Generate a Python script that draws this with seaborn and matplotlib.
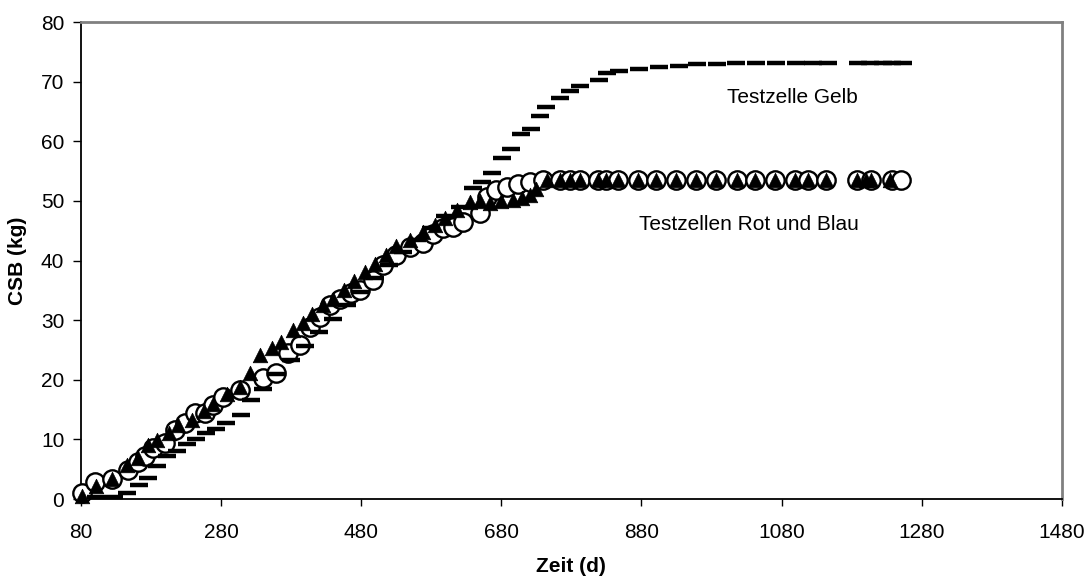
import matplotlib
matplotlib.use("Agg")
import matplotlib.pyplot as plt
import numpy as np
import seaborn as sns

# Testzelle Gelb (dashes)
gelb_x = [102, 127, 146, 163, 175, 189, 203, 217, 231, 244, 258, 272, 287, 308, 322,
          340, 360, 380, 400, 420, 440, 460, 480, 500, 520, 540, 560, 580, 600, 621,
          639, 652, 666, 681, 694, 708, 722, 735, 744, 764, 778, 792, 819, 831, 848,
          876, 905, 933, 959, 988, 1015, 1043, 1072, 1100, 1125, 1146, 1189, 1206,
          1225, 1237, 1253]
gelb_y = [0.3, 0.3, 1.1, 2.4, 3.6, 5.6, 7.2, 8.1, 9.2, 10.1, 11.1, 11.7, 12.7, 14.1, 16.7,
          18.5, 21.0, 23.3, 25.6, 28.0, 30.2, 32.5, 34.8, 37.0, 39.2, 41.5, 43.5, 45.5, 47.5, 49.0,
          52.1, 53.2, 54.7, 57.2, 58.7, 61.2, 62.1, 64.2, 65.8, 67.2, 68.4, 69.2, 70.3, 71.4, 71.8,
          72.1, 72.5, 72.7, 72.9, 73.0, 73.1, 73.1, 73.1, 73.2, 73.1, 73.1, 73.2, 73.2,
          73.2, 73.2, 73.2]

# Testzelle Rot (open circles)
rot_x = [81, 100, 124, 147, 162, 172, 183, 200, 214, 228, 243, 257, 269, 283, 307,
         340, 359, 375, 393, 407, 421, 435, 450, 465, 478, 497, 511, 530, 550, 568,
         583, 597, 611, 625, 649, 659, 673, 688, 704, 721, 740, 764, 778, 792, 818,
         830, 846, 875, 901, 930, 958, 987, 1016, 1042, 1070, 1099, 1118, 1144, 1187,
         1208, 1237, 1251]
rot_y = [1.0, 2.9, 3.4, 4.9, 6.3, 7.3, 8.5, 9.4, 11.6, 12.8, 14.4, 14.5, 15.8, 17.2, 18.3,
         20.3, 21.2, 24.5, 25.8, 28.9, 30.6, 32.5, 33.5, 34.5, 35.0, 36.7, 39.2, 40.9, 42.3, 42.9,
         44.5, 45.4, 45.7, 46.5, 47.9, 50.7, 51.8, 52.4, 52.9, 53.2, 53.5, 53.5, 53.5, 53.5, 53.5,
         53.5, 53.5, 53.5, 53.5, 53.5, 53.5, 53.5, 53.5, 53.5, 53.5, 53.5, 53.5, 53.5, 53.5,
         53.5, 53.5, 53.5]

# Testzelle Blau (filled triangles)
blau_x = [81, 102, 124, 145, 162, 176, 188, 205, 219, 238, 255, 269, 288, 307, 321,
          335, 352, 366, 383, 397, 410, 425, 440, 455, 470, 485, 500, 515, 530, 550,
          568, 585, 600, 616, 635, 650, 664, 680, 697, 710, 721, 730, 745, 764, 778,
          792, 818, 830, 846, 875, 901, 930, 958, 987, 1016, 1042, 1070, 1099, 1118,
          1144, 1187, 1200, 1208, 1235]
blau_y = [0.5, 2.2, 3.4, 5.7, 6.9, 9.0, 9.9, 11.0, 12.4, 13.3, 14.8, 16.0, 17.7, 18.8, 21.1,
          24.2, 25.3, 26.4, 28.3, 29.5, 31.0, 32.5, 33.5, 35.0, 36.5, 38.0, 39.5, 41.0, 42.5, 43.5,
          44.8, 46.0, 47.2, 48.5, 49.9, 50.0, 49.6, 50.0, 50.1, 50.5, 51.0, 52.0, 53.5, 53.5, 53.5,
          53.5, 53.5, 53.5, 53.5, 53.5, 53.5, 53.5, 53.5, 53.5, 53.5, 53.5, 53.5, 53.5, 53.5,
          53.5, 53.5, 53.5, 53.5, 53.5]

x_ticks = np.arange(80, 1481, 200)
y_ticks = np.arange(0, 81, 10)

sns.set_style("white")
plt.rcParams["font.family"] = ["Liberation Sans", "DejaVu Sans"]
plt.rcParams["text.color"] = "black"
plt.rcParams["axes.labelcolor"] = "black"

fig = plt.figure(figsize=(10.89, 5.79), dpi=100)
ax = fig.add_axes([0.0744, 0.138, 0.9006, 0.824])

sns.scatterplot(x=rot_x, y=rot_y, marker="o", s=175, color="white",
                edgecolor="black", linewidth=1.7, ax=ax, zorder=3, clip_on=False)
sns.scatterplot(x=blau_x, y=blau_y, marker="^", s=110, color="black",
                edgecolor="black", linewidth=0.5, ax=ax, zorder=4, clip_on=False)
sns.scatterplot(x=gelb_x, y=gelb_y, marker="_", s=150, color="black",
                linewidth=3.2, ax=ax, zorder=5, clip_on=False)

ax.set_xlim(80, 1480)
ax.set_ylim(0, 80)
ax.set_xticks(x_ticks)
ax.set_yticks(y_ticks)
ax.tick_params(axis="x", direction="out", length=5, width=1, pad=12, labelsize=15,
               colors="black", bottom=True)
ax.tick_params(axis="y", direction="out", length=6, width=1, pad=6, labelsize=15,
               colors="black", left=True)

for side in ["left", "bottom"]:
    ax.spines[side].set_color("black")
    ax.spines[side].set_linewidth(1.3)
for side in ["top", "right"]:
    ax.spines[side].set_visible(True)
    ax.spines[side].set_color("#808080")
    ax.spines[side].set_linewidth(2)

ax.set_xlabel("Zeit (d)", fontsize=15, fontweight="bold", labelpad=11)
ax.set_ylabel("CSB (kg)", fontsize=15, fontweight="bold", labelpad=10)

ax.text(1096, 67.4, "Testzelle Gelb", fontsize=15, ha="center", va="center")
ax.text(1033, 46.0, "Testzellen Rot und Blau", fontsize=15, ha="center", va="center")

fig.savefig("out.png", dpi=100, facecolor="white")
